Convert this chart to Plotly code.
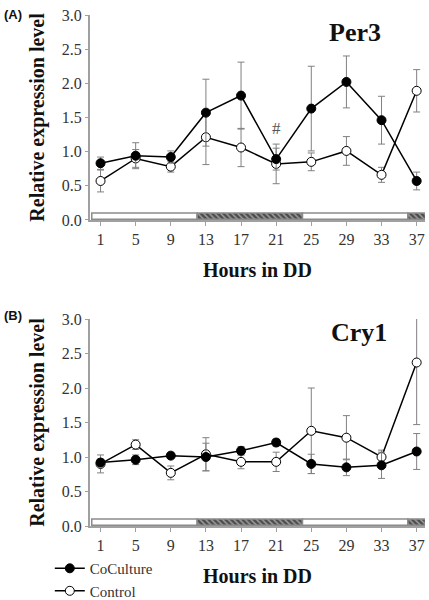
import plotly.graph_objects as go

hours = [1, 5, 9, 13, 17, 21, 25, 29, 33, 37]
tick_labels = ["1", "5", "9", "13", "17", "21", "25", "29", "33", "37"]

per3_coculture = [0.83, 0.94, 0.92, 1.57, 1.82, 0.89, 1.63, 2.02, 1.46, 0.57]
per3_coculture_err = [0.09, 0.19, 0.09, 0.49, 0.49, 0.16, 0.62, 0.38, 0.35, 0.13]
per3_control = [0.57, 0.90, 0.78, 1.21, 1.06, 0.82, 0.85, 1.01, 0.66, 1.89]
per3_control_err = [0.16, 0.13, 0.08, 0.40, 0.28, 0.29, 0.13, 0.21, 0.11, 0.31]

cry1_coculture = [0.92, 0.96, 1.02, 1.00, 1.09, 1.21, 0.90, 0.85, 0.88, 1.08]
cry1_coculture_err = [0.05, 0.07, 0.04, 0.20, 0.06, 0.05, 0.14, 0.12, 0.19, 0.26]
cry1_control = [0.90, 1.18, 0.77, 1.04, 0.93, 0.93, 1.38, 1.28, 1.00, 2.37]
cry1_control_err = [0.13, 0.07, 0.10, 0.24, 0.10, 0.14, 0.62, 0.32, 0.10, 0.90]

# light/dark schedule bar
ld_start = [0, 12, 24, 36]
ld_length = [12, 12, 12, 2]
ld_dark = [False, True, False, True]

SERIF = "Liberation Serif"
GRAY = "#a0a0a0"

fig = go.Figure()

panels = [
    ("x", "y", per3_coculture, per3_coculture_err, per3_control, per3_control_err, True),
    ("x2", "y2", cry1_coculture, cry1_coculture_err, cry1_control, cry1_control_err, False),
]

for xa, ya, cc, cce, ct, cte, showleg in panels:
    # LD bar
    fig.add_trace(go.Bar(
        x=ld_length, base=ld_start, y=[0.055] * len(ld_start), width=0.09,
        orientation="h", xaxis=xa, yaxis=ya, showlegend=False, hoverinfo="skip",
        marker=dict(
            color=["#4d4d4d" if d else "white" for d in ld_dark],
            line=dict(color="#8c8c8c", width=1.5),
            pattern=dict(shape=["\\" if d else "" for d in ld_dark],
                         fgcolor="#b0b0b0", size=4, solidity=0.35),
        ),
    ))
    fig.add_trace(go.Scatter(
        x=hours, y=ct, xaxis=xa, yaxis=ya, mode="lines+markers", name="Control",
        legendrank=2, showlegend=showleg,
        line=dict(color="black", width=1.5),
        marker=dict(symbol="circle", size=9, color="white", line=dict(color="black", width=1)),
        error_y=dict(type="data", array=cte, color="#808080", thickness=1, width=3.5),
    ))
    fig.add_trace(go.Scatter(
        x=hours, y=cc, xaxis=xa, yaxis=ya, mode="lines+markers", name="CoCulture",
        legendrank=1, showlegend=showleg,
        line=dict(color="black", width=1.5),
        marker=dict(symbol="circle", size=9, color="black", line=dict(color="black", width=1)),
        error_y=dict(type="data", array=cce, color="#808080", thickness=1, width=3.5),
    ))

xaxis_common = dict(
    range=[-0.2, 37.95], tickvals=hours, ticktext=tick_labels, automargin=False,
    showline=True, linecolor=GRAY, linewidth=1.5, ticks="outside", ticklen=4,
    tickcolor=GRAY, showgrid=False, zeroline=False,
    tickfont=dict(family=SERIF, size=16, color="#333"),
    title=dict(text="<b>Hours in DD</b>", font=dict(family=SERIF, size=20, color="#111"), standoff=16),
)
yaxis_common = dict(
    range=[0, 3.0], dtick=0.5, tickformat=".1f", automargin=False,
    showline=True, linecolor=GRAY, linewidth=2, ticks="outside", ticklen=3,
    tickcolor=GRAY, showgrid=False, zeroline=False,
    tickfont=dict(family=SERIF, size=16, color="#333"),
    title=dict(text="<b>Relative expression level</b>", font=dict(family=SERIF, size=20, color="#111"), standoff=12),
)

fig.update_layout(
    width=429, height=600,
    margin=dict(l=90, r=4, t=15, b=74, autoexpand=False),
    paper_bgcolor="white", plot_bgcolor="white",
    barmode="overlay",
    xaxis=dict(domain=[0, 1], anchor="y", **xaxis_common),
    yaxis=dict(domain=[0.599, 1.0], anchor="x", **yaxis_common),
    xaxis2=dict(domain=[0, 1], anchor="y2", **xaxis_common),
    yaxis2=dict(domain=[0.0, 0.405], anchor="x2", **yaxis_common),
    showlegend=True,
    legend=dict(
        x=-0.12, y=-0.051, xanchor="left", yanchor="top",
        font=dict(family=SERIF, size=15, color="#333"),
        bgcolor="rgba(0,0,0,0)", tracegroupgap=0, itemwidth=30,
    ),
    annotations=[
        dict(text="<b>Per3</b>", x=30, y=2.75, xref="x", yref="y", showarrow=False,
             font=dict(family=SERIF, size=26, color="#111")),
        dict(text="<b>Cry1</b>", x=30.4, y=2.8, xref="x2", yref="y2", showarrow=False,
             font=dict(family=SERIF, size=26, color="#111")),
        dict(text="#", x=21, y=1.34, xref="x", yref="y", showarrow=False,
             font=dict(family=SERIF, size=17, color="#555")),
        dict(text="<b>(A)</b>", x=-0.262, y=1.02, xref="paper", yref="paper", showarrow=False,
             xanchor="left", yanchor="top",
             font=dict(family="Liberation Sans", size=13, color="#111")),
        dict(text="<b>(B)</b>", x=-0.262, y=0.43, xref="paper", yref="paper", showarrow=False,
             xanchor="left", yanchor="top",
             font=dict(family="Liberation Sans", size=13, color="#111")),
    ],
)

fig.write_html("out.html", config={"displayModeBar": False},
               post_script="document.body.style.margin='0';document.body.style.overflow='hidden';")
